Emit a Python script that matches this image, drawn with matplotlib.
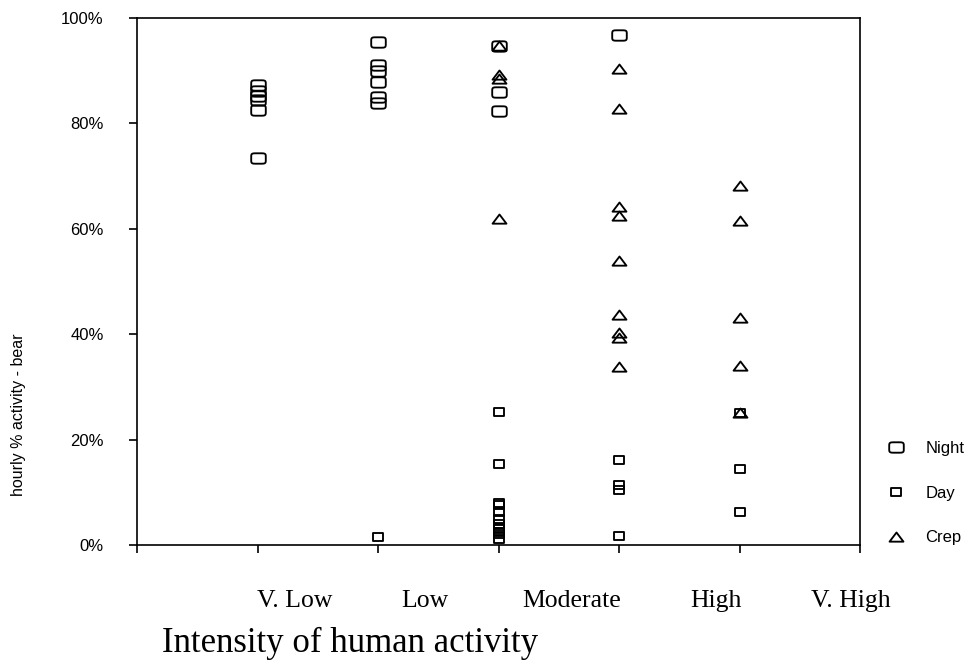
import numpy as np
import matplotlib
matplotlib.use("Agg")
import matplotlib.pyplot as plt
from matplotlib.path import Path

# ---- data (values in %) ----
categories = ["V. Low", "Low", "Moderate", "High", "V. High"]
cat_pos = [1, 2, 3, 4, 5]

night_x = [1, 1, 1, 1, 1, 1,
           2, 2, 2, 2, 2, 2,
           3, 3, 3,
           4]
night_y = [87.2, 86.2, 85.2, 84.4, 82.6, 73.4,
           95.5, 91.0, 90.0, 87.9, 85.0, 83.9,
           94.6, 86.0, 82.4,
           96.8]

day_x = [2,
         3, 3, 3, 3, 3, 3, 3, 3, 3, 3, 3, 3,
         4, 4, 4, 4,
         5, 5, 5]
day_y = [1.6,
         25.2, 15.4, 8.0, 7.5, 6.2, 5.0, 4.0, 3.3, 3.0, 2.5, 2.0, 1.1,
         16.1, 11.4, 10.5, 1.7,
         25.0, 14.4, 6.2]

crep_x = [3, 3, 3, 3,
          4, 4, 4, 4, 4, 4, 4, 4, 4,
          5, 5, 5, 5, 5]
crep_y = [94.6, 89.2, 88.5, 61.8,
          90.4, 82.8, 64.2, 62.4, 53.9, 43.7, 40.3, 39.2, 33.8,
          68.2, 61.4, 43.1, 33.9, 25.0]

yticks = [0, 20, 40, 60, 80, 100]
ytick_labels = ["0%", "20%", "40%", "60%", "80%", "100%"]
legend_labels = ["Night", "Day", "Crep"]

# ---- custom markers ----
t = np.linspace(0, 2 * np.pi, 64)
se = 0.35
ox = 1.4 * np.sign(np.cos(t)) * np.abs(np.cos(t)) ** se
oy = 1.0 * np.sign(np.sin(t)) * np.abs(np.sin(t)) ** se
night_marker = Path(np.column_stack([ox, oy]), closed=True)
day_marker = Path([(-1, -0.75), (1, -0.75), (1, 0.75), (-1, 0.75), (-1, -0.75)], closed=True)
crep_marker = Path([(-1, -0.6), (1, -0.6), (0, 0.72), (-1, -0.6)], closed=True)

plt.rcParams['font.family'] = ['Liberation Sans', 'DejaVu Sans']

fig = plt.figure(figsize=(9.71, 6.71), dpi=100)
ax = fig.add_axes([137 / 971, 1 - 545 / 671, (860 - 137) / 971, (545 - 18) / 671])

mew = 1.35
ax.plot(night_x, night_y, linestyle='none', marker=night_marker, markersize=10.5,
        markerfacecolor='none', markeredgecolor='black', markeredgewidth=mew, label=legend_labels[0], clip_on=False)
ax.plot(day_x, day_y, linestyle='none', marker=day_marker, markersize=7,
        markerfacecolor='none', markeredgecolor='black', markeredgewidth=mew, label=legend_labels[1], clip_on=False)
ax.plot(crep_x, crep_y, linestyle='none', marker=crep_marker, markersize=10,
        markerfacecolor='none', markeredgecolor='black', markeredgewidth=mew, label=legend_labels[2], clip_on=False)

ax.set_xlim(0, 6)
ax.set_ylim(0, 100)
ax.set_xticks(range(0, 7))
ax.set_xticklabels([])
ax.set_yticks(yticks)
ax.set_yticklabels(ytick_labels, fontsize=12)
ax.tick_params(axis='both', direction='out', length=6, width=1.2, color='black')
ax.tick_params(axis='y', pad=18)
for s in ax.spines.values():
    s.set_linewidth(1.2)
    s.set_color('black')

# category labels (offset, as in the reference)
cat_label_px = [295, 425, 572, 716, 851]
for lab, px in zip(categories, cat_label_px):
    fig.text(px / 971, 1 - 601 / 671, lab, ha='center', va='center',
             fontsize=18.5, family=['Liberation Serif', 'DejaVu Serif'])

fig.text(350 / 971, 1 - 643 / 671, "Intensity of human activity", ha='center', va='center',
         fontsize=25, family=['Liberation Serif', 'DejaVu Serif'])

fig.text(18 / 971, 1 - 415 / 671, "hourly % activity - bear", rotation=90,
         ha='center', va='center', fontsize=11.5)

leg = ax.legend(loc='upper left', bbox_to_anchor=(883.5 / 971, 1 - 441 / 671),
                bbox_transform=fig.transFigure, frameon=False, numpoints=1,
                fontsize=12, handlelength=1.5, handletextpad=1.0,
                labelspacing=1.78, borderpad=0, borderaxespad=0)

fig.savefig("out.png", dpi=100)
